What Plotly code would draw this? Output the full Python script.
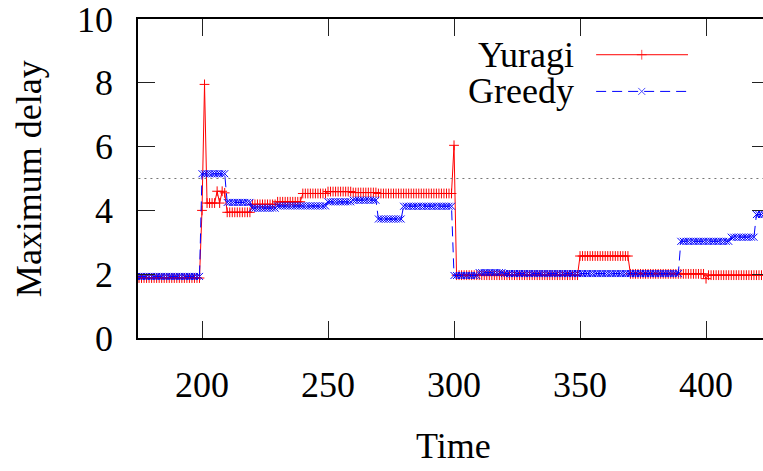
import plotly.graph_objects as go

# ---- data ----
time = list(range(174, 424))

yuragi = ([1.88] * 26 + [4.0, 7.95] + [4.23] * 4 + [4.6, 4.23, 4.6, 4.55]
          + [3.94] * 10 + [4.19] * 10 + [4.27] * 10 + [4.53] * 10
          + [4.59] * 10 + [4.56] * 10 + [4.53] * 30 + [6.04]
          + [1.97] * 49 + [2.57] * 20 + [2.01] * 30 + [1.86] + [1.97] * 23)

greedy = ([1.93] * 26 + [5.15] * 10 + [4.25] * 10 + [4.07] * 10
          + [4.14] * 20 + [4.27] * 10 + [4.32] * 10 + [3.73] * 10
          + [4.13] * 20 + [1.96] * 10 + [2.05] * 10 + [2.02] * 70
          + [3.03] * 20 + [3.16] * 10 + [3.87] * 4)

ref_x = [170, 430]
ref_y = [5, 5]

x_ticks = [200, 250, 300, 350, 400]
y_ticks = [0, 2, 4, 6, 8, 10]

FONT = '"Liberation Serif", "Times New Roman", Times, serif'
RED = "#ff0000"
BLUE = "#0000ff"

fig = go.Figure()

fig.add_trace(go.Scatter(x=ref_x, y=ref_y, mode="lines", yaxis="y2",
                         line=dict(color="#777777", width=1.2, dash="2px,4px"),
                         showlegend=False, hoverinfo="skip"))

fig.add_trace(go.Scatter(x=time, y=yuragi, mode="lines+markers", name="Yuragi",
                         line=dict(color=RED, width=1),
                         marker=dict(symbol="cross-thin", size=7,
                                     line=dict(color=RED, width=1)),
                         showlegend=False))

fig.add_trace(go.Scatter(x=time, y=greedy, mode="lines+markers", name="Greedy",
                         line=dict(color=BLUE, width=1, dash="10px,6px"),
                         marker=dict(symbol="x-thin", size=7,
                                     line=dict(color=BLUE, width=1)),
                         showlegend=False))

# legend keys (text left, sample right, like gnuplot)
L0, LM, L1 = 0.733, 0.806, 0.880
Y_YUR, Y_GRE = 0.888, 0.773
fig.add_trace(go.Scatter(x=[L0, LM, L1], y=[Y_YUR] * 3, xaxis="x2", yaxis="y3",
                         mode="lines+markers", line=dict(color=RED, width=1),
                         marker=dict(symbol="cross-thin", size=[0, 7, 0],
                                     line=dict(color=RED, width=1)),
                         showlegend=False, hoverinfo="skip"))
fig.add_trace(go.Scatter(x=[L0, LM, L1], y=[Y_GRE] * 3, xaxis="x2", yaxis="y3",
                         mode="lines+markers",
                         line=dict(color=BLUE, width=1, dash="10px,6px"),
                         marker=dict(symbol="x-thin", size=[0, 7, 0],
                                     line=dict(color=BLUE, width=1)),
                         showlegend=False, hoverinfo="skip"))

axis_font = dict(family=FONT, size=36, color="black")

fig.update_layout(
    width=763, height=471,
    margin=dict(l=138, r=0, t=17, b=133),
    paper_bgcolor="white", plot_bgcolor="white",
    font=axis_font,
    xaxis=dict(range=[174.6, 422.6], tickvals=x_ticks, ticks="inside", ticklen=17,
               tickcolor="#222", tickwidth=1, showline=True, linecolor="black",
               linewidth=1.5, mirror="ticks", showgrid=False, zeroline=False,
               tickfont=axis_font, ticklabelstandoff=14,
               ticklabeloverflow="allow"),
    yaxis=dict(range=[0, 10], tickvals=y_ticks, ticks="inside", ticklen=17,
               tickcolor="#222", tickwidth=1, showline=True, linecolor="black",
               linewidth=1.5, mirror=False, showgrid=False, zeroline=False,
               tickfont=axis_font, ticklabelstandoff=16,
               ticklabeloverflow="allow"),
    yaxis2=dict(range=[0, 10], tickvals=y_ticks, overlaying="y", side="right",
                ticks="inside", ticklen=11, tickcolor="#222", tickwidth=1,
                showticklabels=False, showline=False, showgrid=False,
                zeroline=False),
    xaxis2=dict(range=[0, 1], overlaying="x", visible=False),
    yaxis3=dict(range=[0, 1], overlaying="y", visible=False),
    showlegend=False,
    annotations=[
        dict(text="Yuragi", xref="paper", yref="paper", x=0.701, y=Y_YUR,
             xanchor="right", yanchor="middle", showarrow=False, font=axis_font),
        dict(text="Greedy", xref="paper", yref="paper", x=0.701, y=Y_GRE,
             xanchor="right", yanchor="middle", showarrow=False, font=axis_font),
        dict(text="Maximum delay", xref="paper", yref="paper", x=-0.175, y=0.5,
             textangle=-90, xanchor="center", yanchor="middle", showarrow=False,
             font=axis_font),
        dict(text="Time", xref="paper", yref="paper", x=0.505, y=-0.34,
             xanchor="center", yanchor="middle", showarrow=False, font=axis_font),
    ],
)

fig.write_html("out.html")
